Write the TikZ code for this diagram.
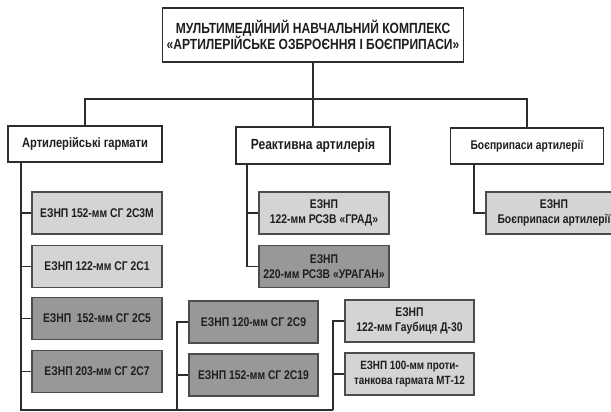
\documentclass[tikz,border=0pt]{standalone}
\usepackage{fontspec}
\setmainfont{Liberation Sans}[FakeStretch=0.82]
\definecolor{lightfill}{RGB}{212,212,212}
\definecolor{darkfill}{RGB}{152,152,152}
\definecolor{edgec}{RGB}{45,45,45}
\definecolor{txt}{RGB}{30,30,30}
\begin{document}
\begin{tikzpicture}[x=1pt,y=-1pt,
  hdr/.style={draw=edgec, line width=1.3pt, fill=white, inner sep=0pt, align=center, text=txt},
  kid/.style={draw=edgec!85, line width=1.7pt, inner sep=0pt, align=center, text=txt,
    minimum width=130, minimum height=42, font=\bfseries\fontsize{12.6}{15}\selectfont},
  lbox/.style={kid, fill=lightfill},
  dbox/.style={kid, fill=darkfill},
  conn/.style={draw=edgec, line width=1.5pt}]
\useasboundingbox (0,0) rectangle (611,412);
\clip (0,0) rectangle (611,412);
\fill[white] (0,0) rectangle (611,412);

% top
\node[hdr, minimum width=301, minimum height=54, font=\bfseries\fontsize{14.7}{16.5}\selectfont] (title) at (313,35)
  {МУЛЬТИМЕДІЙНИЙ НАВЧАЛЬНИЙ КОМПЛЕКС\\«АРТИЛЕРІЙСЬКЕ ОЗБРОЄННЯ І БОЄПРИПАСИ»};

% headers
\node[hdr, minimum width=154, minimum height=36, font=\bfseries\fontsize{13.6}{15}\selectfont] (lh) at (85,144) {Артилерійські гармати};
\node[hdr, minimum width=154, minimum height=37, font=\bfseries\fontsize{14.7}{16}\selectfont] (mh) at (313,145.5) {Реактивна артилерія};
\node[hdr, minimum width=153, minimum height=36, font=\bfseries\fontsize{12.6}{14}\selectfont] (rh) at (527,146) {Боєприпаси артилерії};

% left column
\node[lbox] (b1) at (97,213) {ЕЗНП 152-мм СГ 2С3М};
\node[lbox] (b2) at (97,266.5) {ЕЗНП 122-мм СГ 2С1};
\node[dbox] (b3) at (97,318.5) {ЕЗНП\ \ 152-мм СГ 2С5};
\node[dbox] (b4) at (97,371.5) {ЕЗНП 203-мм СГ 2С7};

% middle column
\node[lbox] (g1) at (324,213) {ЕЗНП\\122-мм РСЗВ «ГРАД»};
\node[dbox] (g2) at (324,266.5) {ЕЗНП\\220-мм РСЗВ «УРАГАН»};

% right column
\node[lbox, minimum width=136] (rc) at (554,213) {ЕЗНП\\Боєприпаси артилерії};

% second level
\node[dbox, minimum width=129] (c9) at (253.5,322) {ЕЗНП 120-мм СГ 2С9};
\node[dbox, minimum width=129] (c19) at (253.5,375) {ЕЗНП 152-мм СГ 2С19};

% third level
\node[lbox, minimum width=129] (d30) at (409.5,321) {ЕЗНП\\122-мм Гаубиця Д-30};
\node[lbox, minimum width=129, font=\bfseries\fontsize{12}{14.5}\selectfont] (mt) at (409.5,374) {ЕЗНП 100-мм проти-\\танкова гармата МТ-12};

% coordinates
\coordinate (hy) at (0,99);
\coordinate (lt) at (21,162);
\coordinate (lb) at (21,410);
\coordinate (mb) at (177,410);
\coordinate (rb) at (333,410);
\coordinate (mt0) at (247,164);
\coordinate (rt0) at (474,164);

% connectors
\draw[conn] (title.south) -- (mh.north);
\draw[conn] (lh.north) -- (lh.north |- hy) -- (rh.north |- hy) -- (rh.north);

\draw[conn] (lt) -- (lb) -- (rb);
\draw[conn] (b1.west) -- (b1.west -| lt);
\draw[conn] (b2.west) -- (b2.west -| lt);
\draw[conn] (b3.west) -- (b3.west -| lt);
\draw[conn] (b4.west) -- (b4.west -| lt);

\draw[conn] (mb) |- (c9.west);
\draw[conn] (c19.west) -- (c19.west -| mb);
\draw[conn] (rb) |- (d30.west);
\draw[conn] (mt.west) -- (mt.west -| rb);

\draw[conn] (mt0) |- (g2.west);
\draw[conn] (g1.west) -- (g1.west -| mt0);
\draw[conn] (rt0) |- (rc.west);
\end{tikzpicture}
\end{document}
